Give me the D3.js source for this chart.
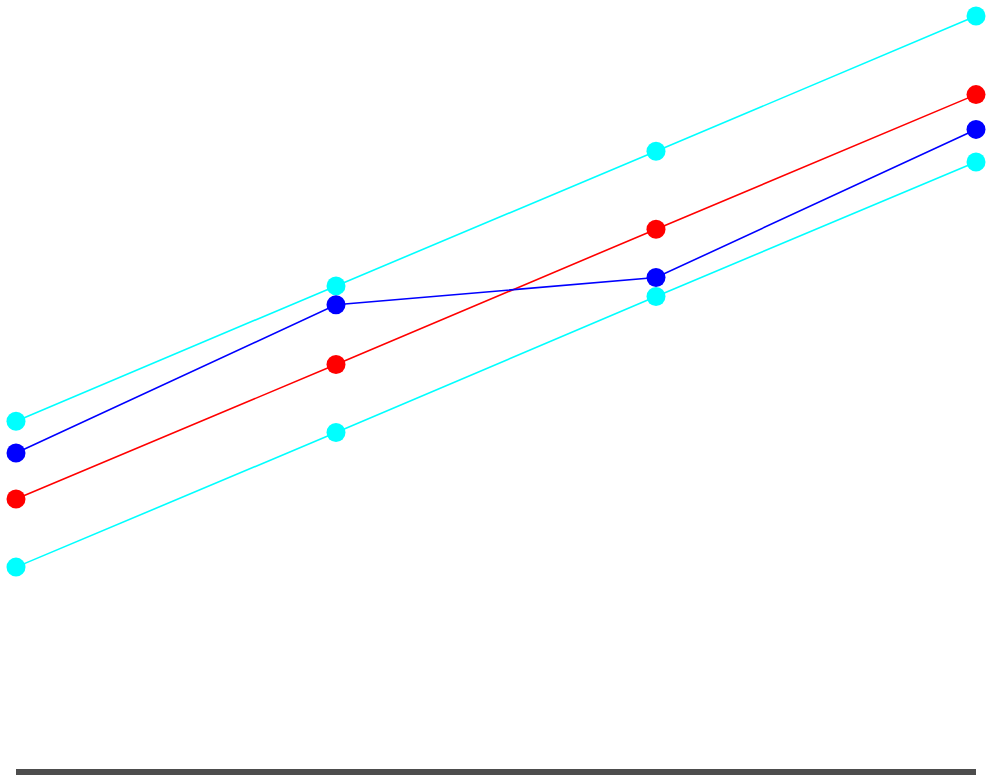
<!DOCTYPE html>
<html>
<head>
<meta charset="utf-8">
<script src="https://cdn.jsdelivr.net/npm/d3@7"></script>
<style>
  html, body { margin: 0; padding: 0; background: #fff; }
  svg { display: block; }
</style>
</head>
<body>
<div id="chart"></div>
<script>
var steps = [0, 1, 2, 3];

var upperValues = [46.4, 64.3, 82.1, 100];
var actualValues = [42.2, 61.8, 65.4, 85.0];
var fitValues = [36.1, 53.9, 71.8, 89.6];
var lowerValues = [27.1, 44.9, 62.9, 80.7];

var series = [
  { name: "upper", color: "#00ffff", values: upperValues },
  { name: "fit", color: "#ff0000", values: fitValues },
  { name: "actual", color: "#0000ff", values: actualValues },
  { name: "lower", color: "#00ffff", values: lowerValues }
];

var width = 996, height = 784;

var svg = d3.select("#chart").append("svg")
  .attr("width", width)
  .attr("height", height);

var x = d3.scalePoint()
  .domain(steps)
  .range([16, 976]);

var y = d3.scaleLinear()
  .domain([0, 100])
  .range([772, 16]);

// baseline
svg.append("line")
  .attr("x1", x.range()[0])
  .attr("x2", x.range()[1])
  .attr("y1", y(0))
  .attr("y2", y(0))
  .style("stroke", "#4d4d4d")
  .style("stroke-width", 6);

var line = d3.line()
  .x((d, i) => x(steps[i]))
  .y(d => y(d));

var groups = svg.selectAll("g.series")
  .data(series)
  .enter()
  .append("g")
  .attr("class", "series");

groups.append("path")
  .attr("d", d => line(d.values))
  .style("fill", "none")
  .style("stroke", d => d.color)
  .style("stroke-width", 1.6);

groups.selectAll("circle")
  .data(d => d.values.map((v, i) => ({ v: v, i: i, color: d.color })))
  .enter()
  .append("circle")
  .attr("cx", d => x(steps[d.i]))
  .attr("cy", d => y(d.v))
  .attr("r", 9.5)
  .style("fill", d => d.color);
</script>
</body>
</html>
